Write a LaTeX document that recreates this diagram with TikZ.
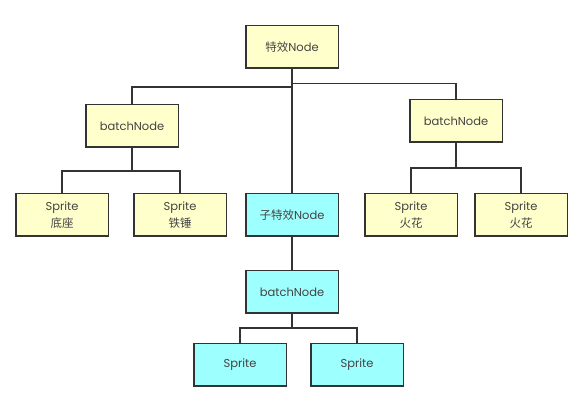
\documentclass[tikz,border=0pt]{standalone}
\usepackage{fontspec}
\setmainfont{Poppins}
\newfontfamily\cjk{Noto Sans CJK SC}
\definecolor{yel}{HTML}{FFFFCC}
\definecolor{cya}{HTML}{9EFFFF}
\definecolor{edge}{HTML}{333333}
\definecolor{txt}{HTML}{444444}

\begin{document}
\begin{tikzpicture}[x=1pt,y=-1pt,
  box/.style={draw=edge,line width=1.5pt,minimum width=92.5pt,minimum height=42.5pt,
    inner sep=0pt,align=center,text=txt,font=\fontsize{11.5}{16.5}\selectfont},
  ybox/.style={box,fill=yel},
  cbox/.style={box,fill=cya},
  link/.style={draw=edge,line width=1.5pt}]
\useasboundingbox (0,0) rectangle (579,406);
\node[ybox] (top) at (292,47) {{\cjk 特效}Node};
\node[ybox] (lbatch) at (132,126) {batchNode};
\node[ybox] (rbatch) at (456,121) {batchNode};
\node[ybox] (base) at (62,215) {Sprite\\{\cjk 底座}};
\node[ybox] (hammer) at (180,215) {Sprite\\{\cjk 铁锤}};
\node[cbox] (sub) at (292,215) {{\cjk 子特效}Node};
\node[ybox] (sparka) at (411,215) {Sprite\\{\cjk 火花}};
\node[ybox] (sparkb) at (521,215) {Sprite\\{\cjk 火花}};
\node[cbox] (cbatch) at (292,292) {batchNode};
\node[cbox] (spritea) at (240,365) {Sprite};
\node[cbox] (spriteb) at (357,365) {Sprite};
\draw[link] (top) -- (sub);
\draw[link] (lbatch.north) |- ([yshift=-18pt]top.south);
\draw[link] (rbatch.north) |- ([yshift=-14.5pt]top.south);
\draw[link] (lbatch) -- ++(0,45) -| (base.north);
\draw[link] (lbatch) -- ++(0,45) -| (hammer.north);
\draw[link] (rbatch) -- ++(0,47) -| (sparka.north);
\draw[link] (rbatch) -- ++(0,47) -| (sparkb.north);
\draw[link] (sub) -- (cbatch);
\draw[link] (cbatch) -- ++(0,36) -| (spritea.north);
\draw[link] (cbatch) -- ++(0,36) -| (spriteb.north);
%\draw[step=10pt] (0,0) grid (579,406);
\end{tikzpicture}
\end{document}
